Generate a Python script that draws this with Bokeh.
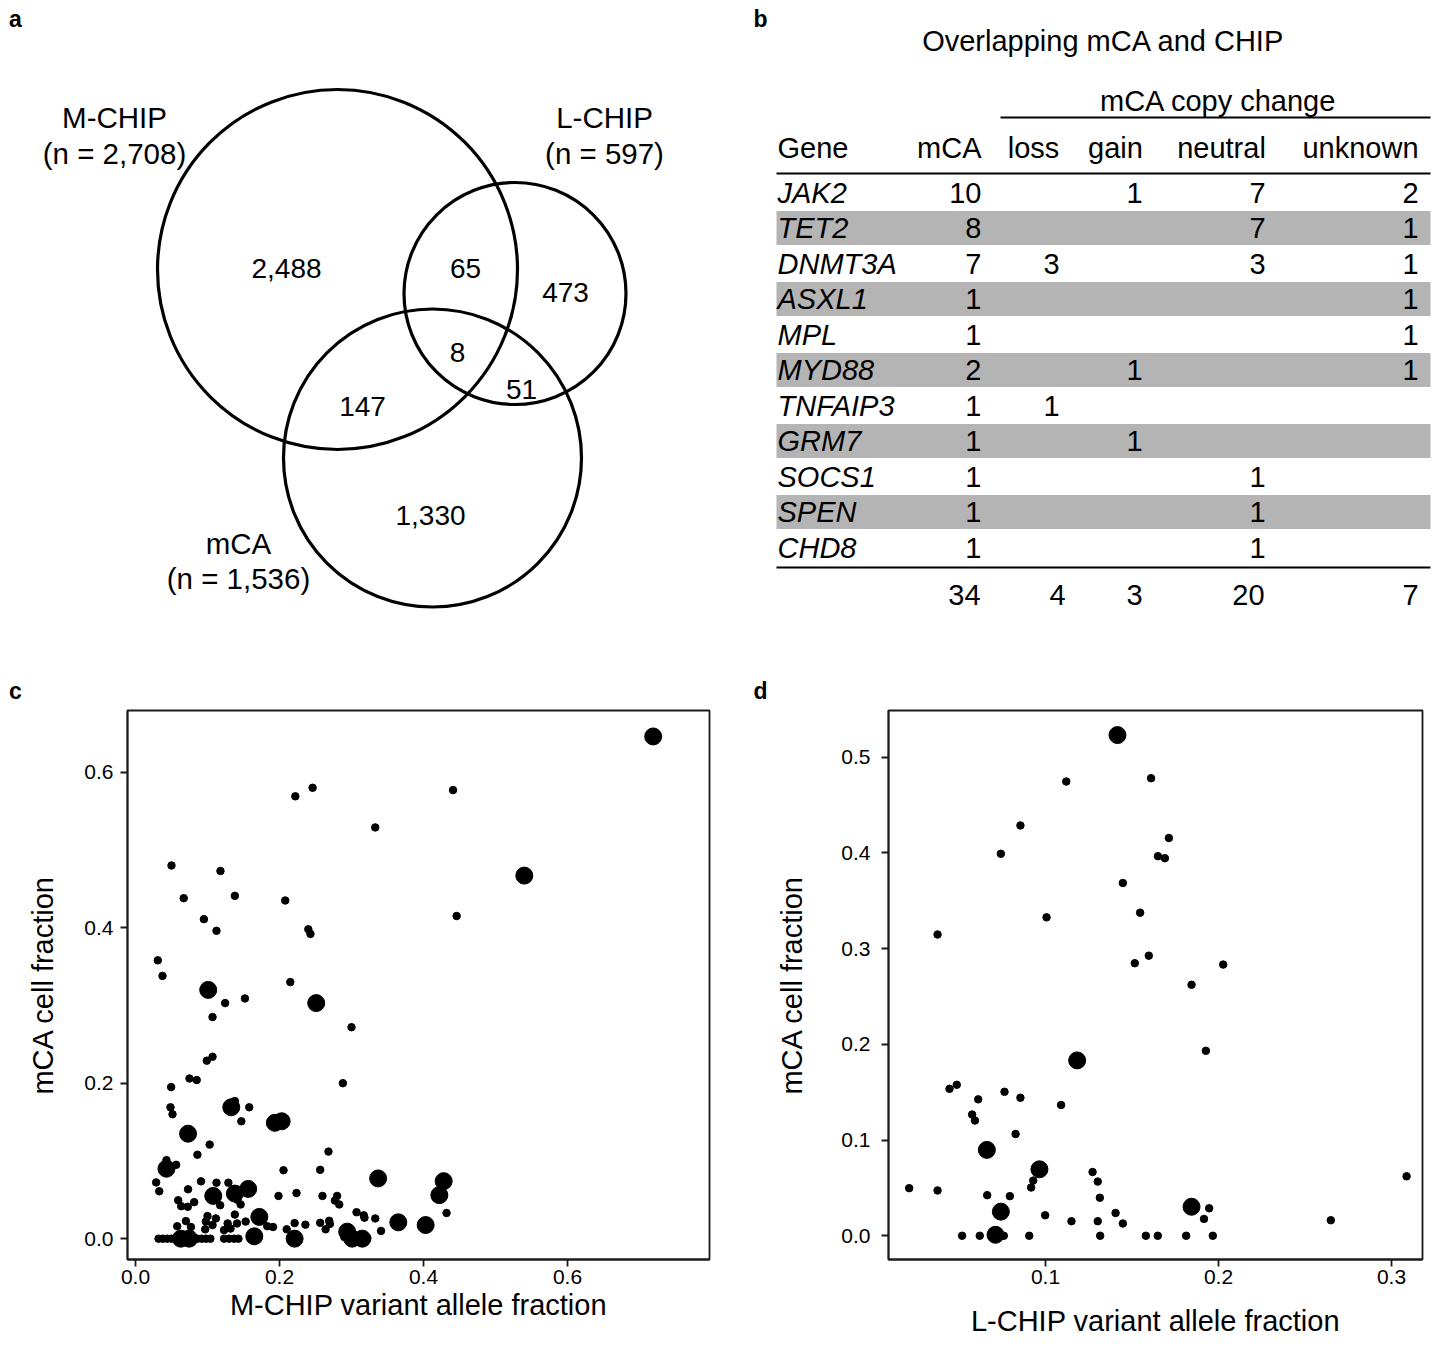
from bokeh.plotting import figure
from bokeh.layouts import row, column
from bokeh.models import Range1d, FixedTicker, PrintfTickFormatter
from bokeh.core.properties import value
from bokeh.embed import file_html
from bokeh.resources import INLINE

FONT = "Liberation Sans"

# ------------------------------------------------------------------ data
# panel a: Venn diagram
venn_set_names = ["M-CHIP", "L-CHIP", "mCA"]
venn_set_sizes = [2708, 597, 1536]
venn_region_names = ["M-CHIP only", "M-CHIP & L-CHIP", "L-CHIP only", "all three",
                     "M-CHIP & mCA", "L-CHIP & mCA", "mCA only"]
venn_region_counts = [2488, 65, 473, 8, 147, 51, 1330]

# panel b: table
table_title = "Overlapping mCA and CHIP"
table_group_header = "mCA copy change"
table_headers = ["Gene", "mCA", "loss", "gain", "neutral", "unknown"]
genes = ["JAK2", "TET2", "DNMT3A", "ASXL1", "MPL", "MYD88", "TNFAIP3", "GRM7",
         "SOCS1", "SPEN", "CHD8"]
mca_counts = [10, 8, 7, 1, 1, 2, 1, 1, 1, 1, 1]
loss_counts = [None, None, 3, None, None, None, 1, None, None, None, None]
gain_counts = [1, None, None, None, None, 1, None, 1, None, None, None]
neutral_counts = [7, 7, 3, None, None, None, None, None, 1, 1, 1]
unknown_counts = [2, 1, 1, 1, 1, 1, None, None, None, None, None]
totals = [34, 4, 3, 20, 7]

# panel c: M-CHIP VAF vs mCA cell fraction
c_large_x = [0.719, 0.540, 0.101, 0.251, 0.133, 0.1935, 0.203, 0.073, 0.043, 0.337,
             0.108, 0.138, 0.1565, 0.428, 0.422, 0.365, 0.403, 0.063, 0.0745, 0.165,
             0.172, 0.221, 0.294, 0.301, 0.315]
c_large_y = [0.646, 0.467, 0.320, 0.303, 0.169, 0.149, 0.151, 0.135, 0.090, 0.0775,
             0.055, 0.058, 0.064, 0.074, 0.056, 0.021, 0.0175, 0.0, 0.0, 0.003,
             0.028, 0.0, 0.009, 0.0, 0.0]
c_small_x = [0.246, 0.222, 0.333, 0.441, 0.446, 0.050, 0.118, 0.067, 0.138, 0.208,
             0.095, 0.1125, 0.240, 0.243, 0.031, 0.0375, 0.215, 0.1245, 0.152, 0.107,
             0.300, 0.107, 0.099, 0.0495, 0.075, 0.085, 0.288, 0.0486, 0.0514, 0.138,
             0.158, 0.147, 0.103, 0.086, 0.268, 0.043, 0.0565, 0.2056, 0.2565, 0.0287,
             0.033, 0.091, 0.1125, 0.129, 0.073, 0.1986, 0.2236, 0.2597, 0.280, 0.277,
             0.283, 0.0593, 0.0635, 0.0726, 0.0815, 0.1176, 0.146, 0.1417, 0.432, 0.307,
             0.317, 0.333, 0.341, 0.318, 0.2565, 0.269, 0.270, 0.264, 0.236, 0.221,
             0.210, 0.191, 0.183, 0.153, 0.138, 0.141, 0.128, 0.1116, 0.100, 0.0977,
             0.107, 0.070, 0.058, 0.077, 0.0968, 0.123, 0.132,
             0.032, 0.038, 0.044, 0.050, 0.056, 0.068, 0.080, 0.086, 0.092, 0.098,
             0.104, 0.123, 0.130, 0.137, 0.143, 0.290, 0.309, 0.322]
c_small_y = [0.580, 0.569, 0.529, 0.577, 0.415, 0.480, 0.473, 0.438, 0.441, 0.435,
             0.411, 0.396, 0.398, 0.392, 0.358, 0.338, 0.330, 0.303, 0.309, 0.285,
             0.272, 0.234, 0.229, 0.195, 0.206, 0.204, 0.200, 0.169, 0.160, 0.177,
             0.169, 0.151, 0.121, 0.108, 0.112, 0.101, 0.095, 0.088, 0.0885, 0.0724,
             0.061, 0.0737, 0.072, 0.072, 0.0635, 0.055, 0.0587, 0.055, 0.055, 0.049,
             0.044, 0.0494, 0.0418, 0.041, 0.047, 0.043, 0.044, 0.050, 0.033, 0.034,
             0.030, 0.026, 0.010, 0.027, 0.0204, 0.023, 0.019, 0.012, 0.018, 0.020,
             0.012, 0.015, 0.016, 0.022, 0.031, 0.0196, 0.0196, 0.026, 0.029, 0.022,
             0.0175, 0.0226, 0.016, 0.015, 0.012, 0.011, 0.013,
             0.0, 0.0, 0.0, 0.0, 0.0, 0.0, 0.0, 0.0, 0.0, 0.0,
             0.0, 0.0, 0.0, 0.0, 0.0, 0.002, 0.0, 0.001]

# panel d: L-CHIP VAF vs mCA cell fraction
d_large_x = [0.1416, 0.1183, 0.0661, 0.0965, 0.0742, 0.0711, 0.1844]
d_large_y = [0.523, 0.1832, 0.0897, 0.0694, 0.0252, 0.001, 0.0303]
d_small_x = [0.112, 0.161, 0.0855, 0.0742, 0.165, 0.169, 0.1713, 0.1447, 0.1547, 0.1006,
             0.0376, 0.1597, 0.1516, 0.2027, 0.1844, 0.1927, 0.3087, 0.1946, 0.1916, 0.2649,
             0.1649, 0.1813, 0.1967, 0.0445, 0.0487, 0.0611, 0.0763, 0.0855, 0.109, 0.0576,
             0.0592, 0.0827, 0.0929, 0.0917, 0.1272, 0.1302, 0.1314, 0.0212, 0.0376, 0.0663,
             0.0794, 0.0998, 0.115, 0.1302, 0.1405, 0.1447, 0.0518, 0.062, 0.0759, 0.0906,
             0.1316, 0.158]
d_small_y = [0.4745, 0.478, 0.4286, 0.399, 0.3965, 0.3944, 0.4155, 0.3685, 0.3375, 0.3326,
             0.3147, 0.2926, 0.2847, 0.2833, 0.2622, 0.1932, 0.0621, 0.0287, 0.0176, 0.0162,
             0.0, 0.0, 0.0, 0.1535, 0.1577, 0.1425, 0.1504, 0.1442, 0.1366, 0.1266,
             0.1204, 0.1063, 0.0576, 0.0504, 0.0666, 0.0566, 0.0397, 0.0497, 0.0473, 0.0424,
             0.0414, 0.0214, 0.0152, 0.0152, 0.0238, 0.0128, 0.0, 0.0, 0.0, 0.0,
             0.0, 0.0]

c_ticks_x = [0.0, 0.2, 0.4, 0.6]
c_ticks_y = [0.0, 0.2, 0.4, 0.6]
d_ticks_x = [0.1, 0.2, 0.3]
d_ticks_y = [0.0, 0.1, 0.2, 0.3, 0.4, 0.5]

panel_letters = ["a", "b", "c", "d"]

# ------------------------------------------------------------------ layout constants
TOP_H = 704
BOT_H = 641
LEFT_W = 753
RIGHT_W = 683


def txt(p, xs, ys, texts, size="29px", align="center", style="normal"):
    p.text(x=xs, y=ys, text=texts, text_font=value(FONT), text_font_size=size,
           text_align=align, text_baseline="middle", text_color="black",
           text_font_style=style)


def blank_fig(w, h):
    p = figure(width=w, height=h, x_range=Range1d(0, w), y_range=Range1d(h, 0),
               output_backend="svg", toolbar_location=None, min_border=0, title=None)
    p.xaxis.visible = False
    p.yaxis.visible = False
    p.grid.visible = False
    p.outline_line_color = None
    return p


# ---------------- panel a (plus the "c" letter below it)
pa = blank_fig(LEFT_W, TOP_H)
circ_x = [337, 514.5, 432]
circ_y = [269, 293, 457.5]
circ_r = [180, 111, 149]
pa.circle(x=circ_x, y=circ_y, radius=circ_r, fill_color=None, line_color="black",
          line_width=3.2)
name_pos = [(114, 117, 153), (604, 117, 153), (238, 543, 578)]
txt(pa, [p[0] for p in name_pos], [p[1] for p in name_pos], venn_set_names, size="29.5px")
txt(pa, [p[0] for p in name_pos], [p[2] for p in name_pos],
    [f"(n = {n:,})" for n in venn_set_sizes], size="29.5px")
region_pos = [(286, 268), (465, 268), (565, 292), (457, 352), (362, 406), (521, 389), (430, 515)]
txt(pa, [p[0] for p in region_pos], [p[1] for p in region_pos],
    [f"{n:,}" for n in venn_region_counts], size="28px")
txt(pa, [15, 15], [18, 690], [panel_letters[0], panel_letters[2]], size="23px", style="bold")

# ---------------- panel b (plus the "d" letter below it)
pb = blank_fig(RIGHT_W, TOP_H)
row0 = 192
row_step = 35.5
row_y = [row0 + row_step * i for i in range(len(genes))]
band_y = [y for i, y in enumerate(row_y) if i % 2 == 1]
pb.rect(x=[350] * len(band_y), y=band_y, width=654, height=34,
        fill_color="#b4b4b4", line_color=None)
txt(pb, [7, 7], [18, 690], [panel_letters[1], panel_letters[3]], size="23px", style="bold")
txt(pb, [350], [40], [table_title], size="29px")
txt(pb, [465], [100], [table_group_header], size="29px")
pb.segment(x0=[247, 23, 23], y0=[117, 173, 567], x1=[677, 677, 677], y1=[117, 173, 567],
           line_color="black", line_width=2.2)
hdr_x = [24, 228, 280, 362, 468, 607]
hdr_align = ["left", "right", "center", "center", "center", "center"]
for hx, ha, ht in zip(hdr_x, hdr_align, table_headers):
    txt(pb, [hx], [147], [ht], size="29px", align=ha)
txt(pb, [24] * len(genes), row_y, genes, size="29px", align="left", style="italic")
txt(pb, [228] * len(genes), row_y, [str(v) for v in mca_counts], size="29px", align="right")
for col_x, vals in [(298, loss_counts), (381, gain_counts), (504, neutral_counts),
                    (657, unknown_counts)]:
    ys = [y for y, v in zip(row_y, vals) if v is not None]
    ts = [str(v) for v in vals if v is not None]
    txt(pb, [col_x] * len(ys), ys, ts, size="29px")
txt(pb, [211, 304, 381, 495, 657], [594] * 5, [str(t) for t in totals], size="29px")


# ---------------- scatter panels
def scatter_fig(w, h, xr, yr, mb, xt, yt, xlabel, ylabel, tick_std, lab_std):
    p = figure(width=w, height=h, x_range=Range1d(*xr), y_range=Range1d(*yr),
               output_backend="svg", toolbar_location=None, title=None,
               min_border_left=mb[0], min_border_right=mb[1],
               min_border_top=mb[2], min_border_bottom=mb[3])
    p.grid.visible = False
    p.outline_line_color = "#1a1a1a"
    p.outline_line_width = 1.8
    p.xaxis.ticker = FixedTicker(ticks=xt)
    p.yaxis.ticker = FixedTicker(ticks=yt)
    p.xaxis.formatter = PrintfTickFormatter(format="%.1f")
    p.yaxis.formatter = PrintfTickFormatter(format="%.1f")
    for ax in (p.xaxis[0], p.yaxis[0]):
        ax.axis_line_color = "#1a1a1a"
        ax.axis_line_width = 1.8
        ax.major_tick_line_color = "#1a1a1a"
        ax.major_tick_line_width = 1.8
        ax.major_tick_out = 7
        ax.major_tick_in = 0
        ax.minor_tick_line_color = None
        ax.major_label_text_font = FONT
        ax.major_label_text_font_size = "21px"
        ax.major_label_text_color = "black"
        ax.axis_label_text_font = FONT
        ax.axis_label_text_font_size = "29px"
        ax.axis_label_text_font_style = "normal"
        ax.axis_label_text_color = "black"
    p.xaxis.axis_label = xlabel
    p.yaxis.axis_label = ylabel
    p.xaxis.major_label_standoff = tick_std[0]
    p.yaxis.major_label_standoff = tick_std[1]
    p.xaxis.axis_label_standoff = lab_std[0]
    p.yaxis.axis_label_standoff = lab_std[1]
    return p


pc = scatter_fig(LEFT_W, BOT_H, (-0.0111, 0.7972), (-0.0268, 0.6794), (127, 44, 6, 82),
                 c_ticks_x, c_ticks_y, "M-CHIP variant allele fraction", "mCA cell fraction",
                 (3, 7), (2, 22))
pc.scatter(c_small_x, c_small_y, size=7.5, color="black")
pc.scatter(c_large_x, c_large_y, size=17, color="black")

pdd = scatter_fig(RIGHT_W, BOT_H, (0.00925, 0.3179), (-0.0248, 0.5487), (135, 14, 1, 86),
                  d_ticks_x, d_ticks_y, "L-CHIP variant allele fraction", "mCA cell fraction",
                  (3, 11), (18, 30))
pdd.scatter(d_small_x, d_small_y, size=7.5, color="black")
pdd.scatter(d_large_x, d_large_y, size=17, color="black")

layout = column(row(pa, pb), row(pc, pdd))
open("out.html", "w").write(file_html(layout, INLINE))
